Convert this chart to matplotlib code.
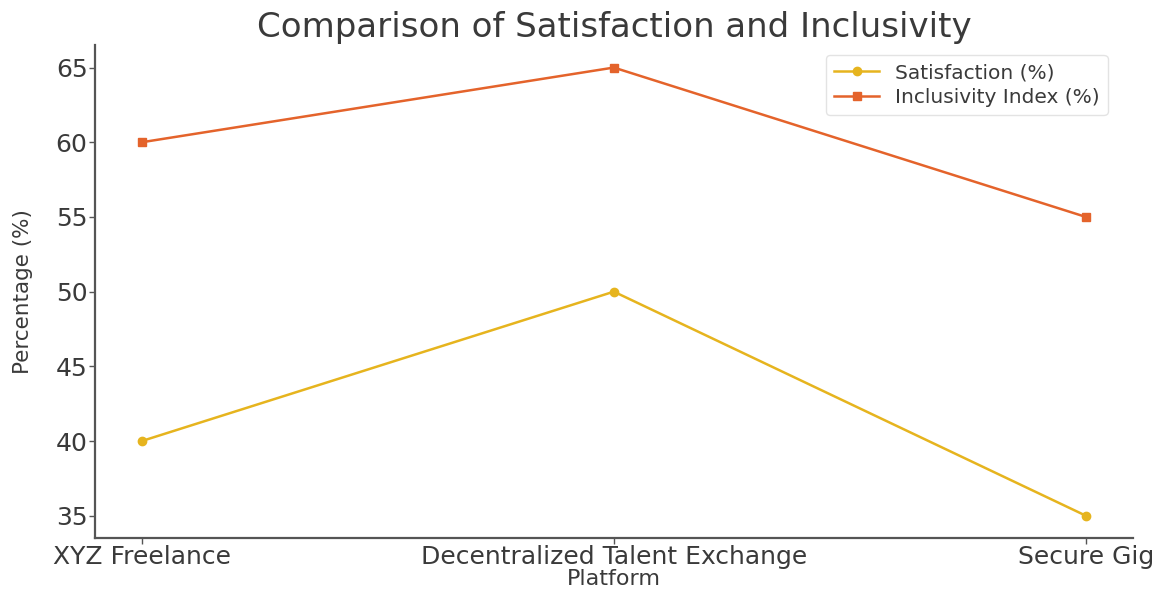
import matplotlib
matplotlib.use("Agg")
import matplotlib.pyplot as plt

platforms = ["XYZ Freelance", "Decentralized Talent Exchange", "Secure Gig"]
satisfaction = [40, 50, 35]
inclusivity = [60, 65, 55]

text_color = "#3a3a3a"
sat_color = "#E6B41E"
inc_color = "#E4632B"

plt.rcParams["font.family"] = ["DejaVu Sans"]

fig = plt.figure(figsize=(11.67, 5.94), dpi=100)
ax = fig.add_axes([0.081, 0.094, 0.890, 0.830])

x = range(len(platforms))
ax.plot(x, satisfaction, marker="o", markersize=6, linewidth=1.8,
        color=sat_color, label="Satisfaction (%)")
ax.plot(x, inclusivity, marker="s", markersize=6, linewidth=1.8,
        color=inc_color, label="Inclusivity Index (%)")

ax.set_xticks(list(x))
ax.set_xticklabels(platforms)
ax.set_yticks([35, 40, 45, 50, 55, 60, 65])

ax.set_title("Comparison of Satisfaction and Inclusivity", fontsize=24.5,
             color=text_color, pad=6)
ax.set_xlabel("Platform", fontsize=16, color=text_color, labelpad=0)
ax.set_ylabel("Percentage (%)", fontsize=15.5, color=text_color, labelpad=16)

for side in ("top", "right"):
    ax.spines[side].set_visible(False)
for side in ("left", "bottom"):
    ax.spines[side].set_color("#555555")
    ax.spines[side].set_linewidth(1.6)

ax.tick_params(axis="both", labelsize=18, colors="#555555",
               labelcolor=text_color, length=4, width=1, pad=1)

leg = ax.legend(loc="upper right", fontsize=14.5, frameon=True,
                bbox_to_anchor=(0.985, 1.0), handlelength=2.2,
                labelspacing=0.3)
leg.get_frame().set_edgecolor("#dddddd")
for t in leg.get_texts():
    t.set_color(text_color)

fig.savefig("out.png", dpi=100)
